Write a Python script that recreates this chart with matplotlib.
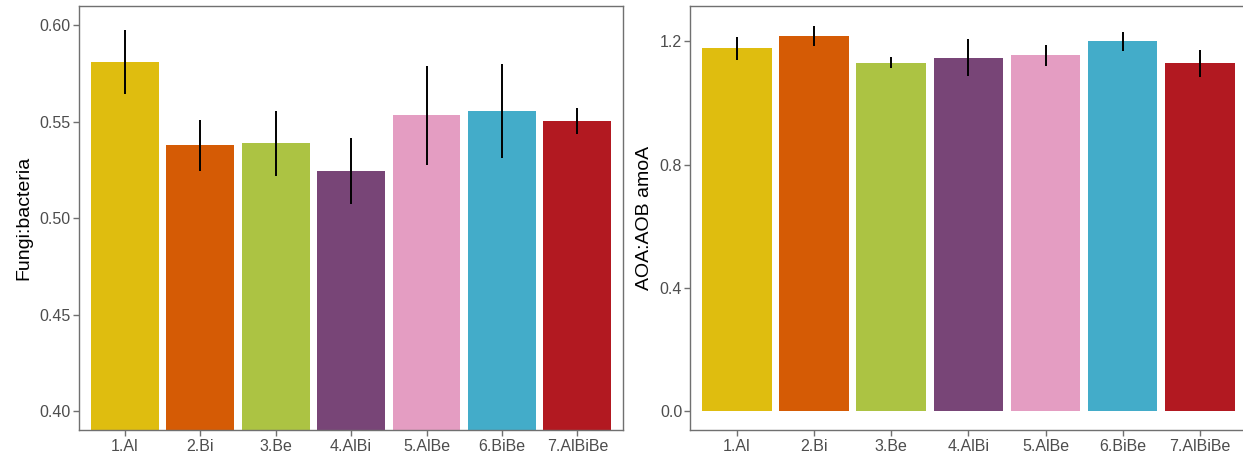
import matplotlib
matplotlib.use('Agg')
from matplotlib import pyplot as plt
import numpy as np

# %% Data

groups = ['1.Al', '2.Bi', '3.Be', '4.AlBi', '5.AlBe', '6.BiBe', '7.AlBiBe']
colors = ['#DFBD0F', '#D55B05', '#ACC343', '#784577', '#E49DC2', '#43ACC9', '#B21921']

fungi_bact = [0.5812, 0.5377, 0.5388, 0.5244, 0.5533, 0.5557, 0.5503]
fungi_bact_se = [0.0166, 0.0134, 0.0168, 0.0171, 0.0258, 0.0243, 0.0066]

aoa_aob = [1.177, 1.218, 1.131, 1.146, 1.155, 1.200, 1.129]
aoa_aob_se = [0.038, 0.033, 0.019, 0.060, 0.034, 0.031, 0.044]

# %% Plot

plt.rcParams['font.family'] = ['Liberation Sans', 'DejaVu Sans']
grey = '#707070'

fig = plt.figure(figsize=(12.43, 4.55), dpi=100)
ax1 = fig.add_axes([0.0638, 0.0543, 0.4372, 0.9325])
ax2 = fig.add_axes([0.5555, 0.0543, 0.4471, 0.9325])

x = np.arange(1, len(groups)+1)

def panel(ax, vals, se, ylim, ticks, fmt, label, labx):
    ax.bar(x, vals, width=0.9, color=colors, zorder=2)
    ax.vlines(x, np.array(vals)-np.array(se), np.array(vals)+np.array(se),
              color='black', linewidth=1.4, zorder=3)
    ax.set_xlim(0.4, 7.6)
    ax.set_ylim(*ylim)
    ax.set_xticks(x)
    ax.set_xticklabels(groups)
    ax.set_yticks(ticks)
    ax.set_yticklabels([fmt % t for t in ticks])
    ax.tick_params(colors=grey, labelcolor='#4D4D4D', labelsize=11.5,
                   length=4, width=1, pad=2)
    for s in ax.spines.values():
        s.set_color(grey)
        s.set_linewidth(1)
    ax.set_ylabel(label, fontsize=14, color='black')
    ax.yaxis.set_label_coords(labx, 0.5)

panel(ax1, fungi_bact, fungi_bact_se, (0.39, 0.61),
      [0.40, 0.45, 0.50, 0.55, 0.60], '%.2f', 'Fungi:bacteria', -0.087)
panel(ax2, aoa_aob, aoa_aob_se, (-0.0626, 1.3144),
      [0.0, 0.4, 0.8, 1.2], '%.1f', 'AOA:AOB amoA', -0.068)

plt.savefig('out.png', dpi=100)
